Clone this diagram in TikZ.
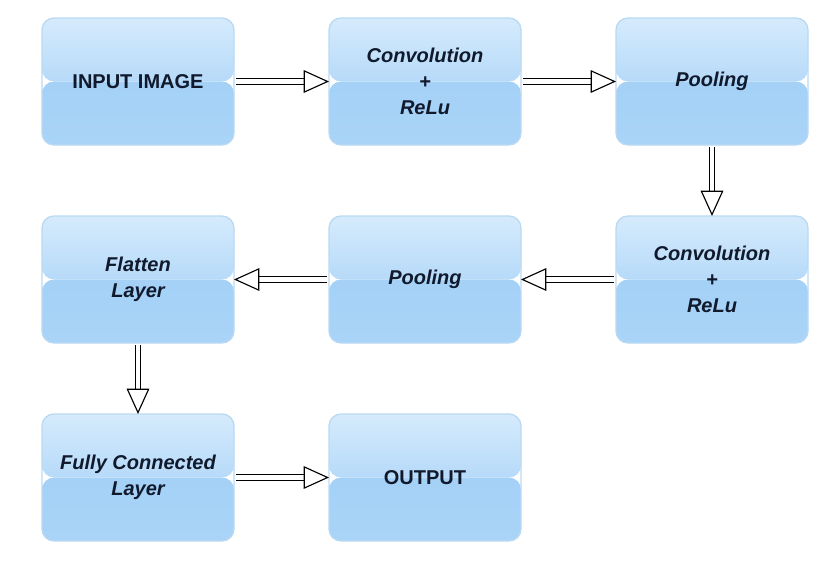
\documentclass[tikz,border=0pt]{standalone}
\usepackage{fontspec}
\setmainfont{Liberation Sans}
\usetikzlibrary{arrows.meta,positioning}
\definecolor{cnnink}{HTML}{101A2C}
\definecolor{cnntop}{HTML}{D6EBFC}
\definecolor{cnnmid}{HTML}{B6DAF9}
\definecolor{cnnlow}{HTML}{A0CEF7}
\definecolor{cnnbase}{HTML}{A9D4F7}
\definecolor{cnnrule}{HTML}{B9D9F3}

\begin{document}
\begin{tikzpicture}[
  x=0.75pt, y=-0.75pt,
  box/.style={draw=cnnrule, line width=1pt, rounded corners=9pt, minimum width=144pt, minimum height=95.25pt,
    inner sep=2pt, outer sep=0pt, align=center, text=cnnink, font=\fontsize{15}{19.5}\selectfont\bfseries,
    path picture={
      \shade[top color=cnnlow, bottom color=cnnbase] (path picture bounding box.west) rectangle (path picture bounding box.south east);
      \shade[top color=cnntop, bottom color=cnnmid] (path picture bounding box.north west) rectangle (path picture bounding box.east);
    }},
  stage/.style={box, font=\fontsize{15}{19.5}\selectfont\bfseries\itshape},
  flow/.style={draw=black, line width=0.85pt, double=white, double distance=3.2pt, shorten <=1.5pt,
    -{Triangle[open, length=19pt, width=17pt, line width=0.85pt]}},
]
  \useasboundingbox (0,0) rectangle (826,564);
  \node[box] (in) at (138,81.5) {INPUT IMAGE};
  \node[stage, right=71.25pt of in] (conv1) {Convolution\\+\\ReLu};
  \node[stage, right=71.25pt of conv1] (pool1) {Pooling};
  \node[stage, below=53.25pt of pool1] (conv2) {Convolution\\+\\ReLu};
  \node[stage, left=71.25pt of conv2] (pool2) {Pooling};
  \node[stage, left=71.25pt of pool2] (flat) {Flatten\\Layer};
  \node[stage, below=53.25pt of flat] (fc) {Fully Connected\\Layer};
  \node[box, right=71.25pt of fc] (out) {OUTPUT};
  \foreach \a/\b in {in/conv1, conv1/pool1, pool1/conv2, conv2/pool2, pool2/flat, flat/fc, fc/out}
    \draw[flow] (\a) -- (\b);
\end{tikzpicture}
\end{document}
